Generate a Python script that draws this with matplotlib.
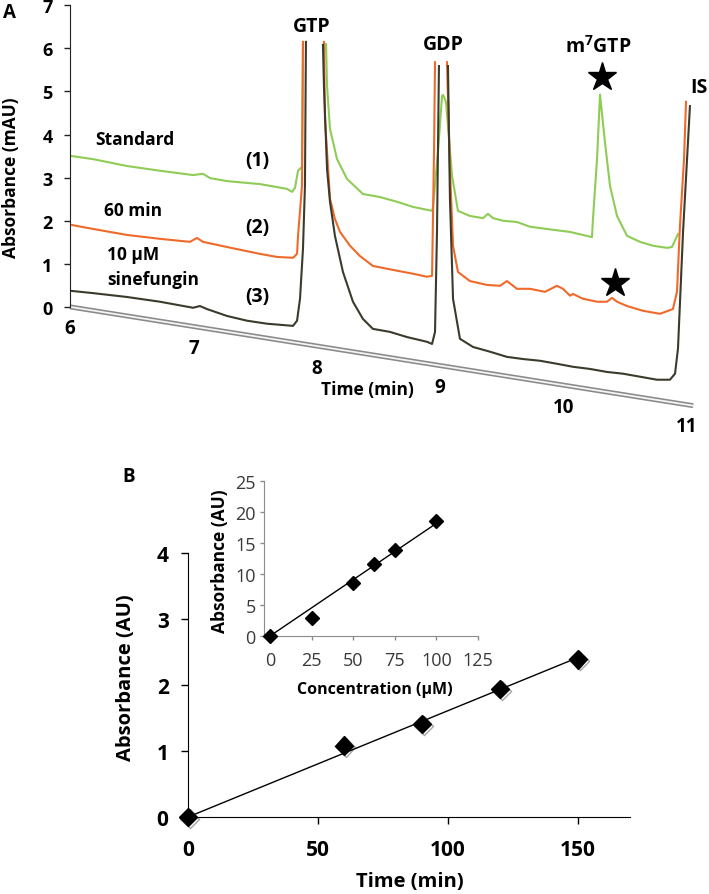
import numpy as np
import matplotlib
matplotlib.use("Agg")
import matplotlib.pyplot as plt
from matplotlib.transforms import Affine2D
import matplotlib.patheffects as pe

plt.rcParams['font.family'] = ['Open Sans', 'DejaVu Sans']
plt.rcParams['mathtext.fontset'] = 'custom'
plt.rcParams['mathtext.rm'] = 'Open Sans:bold'
plt.rcParams['mathtext.bf'] = 'Open Sans:bold'

# ---- panel A: chromatograms (time in min, absorbance in mAU)
nan = np.nan
std_t = [6.016, 6.186, 6.462, 6.729, 6.997, 7.078, 7.134, 7.272, 7.540, 7.758, 7.799, 7.823,
         7.848, 7.880, 7.888, nan, 8.075, 8.083, 8.107, 8.164, 8.245, 8.374, 8.512, 8.650,
         8.780, 8.934, 8.942, 8.982, 9.015, 9.023, 9.047, 9.096, 9.144, 9.241, 9.347, 9.387,
         9.428, 9.509, 9.622, 9.728, 9.914, 10.052, 10.230, 10.238, 10.271, 10.295, 10.335,
         10.376, 10.433, 10.514, 10.619, 10.724, 10.838, 10.878, 10.927]
std_a = [3.50, 3.43, 3.27, 3.16, 3.06, 3.09, 2.99, 2.92, 2.85, 2.74, 2.67, 2.76,
         3.16, 3.25, 6.10, nan, 6.10, 5.13, 4.13, 3.43, 2.97, 2.62, 2.55, 2.44,
         2.32, 2.23, 2.32, 3.60, 4.90, 4.92, 4.76, 3.04, 2.23, 2.11, 2.06, 2.16,
         2.06, 2.00, 1.97, 1.86, 1.79, 1.74, 1.62, 2.04, 3.43, 4.93, 3.83,
         2.81, 2.11, 1.65, 1.51, 1.42, 1.37, 1.39, 1.69]

min60_t = [6.016, 6.186, 6.462, 6.729, 6.972, 7.029, 7.078, 7.272, 7.540, 7.677, 7.807, 7.840,
           7.848, 7.880, 7.888, nan, 8.058, 8.066, 8.083, 8.107, 8.147, 8.188, 8.269, 8.350,
           8.455, 8.650, 8.780, 8.893, 8.934, 8.950, 8.958, nan, 9.055, 9.079, 9.104, 9.144,
           9.241, 9.379, 9.485, 9.541, 9.622, 9.728, 9.849, 9.946, 9.995, 10.052, 10.076,
           10.157, 10.271, 10.352, 10.392, 10.433, 10.514, 10.643, 10.781, 10.886, 10.919,
           10.943, 10.976, 10.992]
min60_a = [1.90, 1.81, 1.67, 1.58, 1.51, 1.60, 1.51, 1.39, 1.23, 1.16, 1.14, 1.23,
           1.65, 2.81, 6.15, nan, 6.15, 4.36, 3.60, 2.51, 2.04, 1.74, 1.42, 1.18,
           0.95, 0.84, 0.77, 0.70, 0.72, 3.60, 5.68, nan, 5.68, 3.20, 1.42, 0.81,
           0.60, 0.51, 0.49, 0.60, 0.42, 0.42, 0.35, 0.49, 0.42, 0.26, 0.30,
           0.19, 0.12, 0.12, 0.21, 0.12, 0.02, -0.09, -0.16, -0.05, 0.35,
           1.88, 3.43, 4.76]

sine_t = [6.016, 6.186, 6.462, 6.729, 6.997, 7.053, 7.110, 7.272, 7.434, 7.596, 7.807, 7.840,
          7.864, 7.888, 7.904, 7.912, nan, 8.050, 8.058, 8.083, 8.107, 8.147, 8.212, 8.293,
          8.374, 8.455, 8.593, 8.731, 8.893, 8.934, 8.958, 8.974, 8.990, nan, 9.063, 9.079,
          9.104, 9.160, 9.266, 9.404, 9.541, 9.671, 9.809, 9.946, 10.076, 10.214, 10.352,
          10.481, 10.619, 10.757, 10.862, 10.903, 10.927, 10.968, 11.024]
sine_a = [0.37, 0.32, 0.23, 0.12, -0.02, 0.02, -0.05, -0.21, -0.32, -0.39, -0.44, -0.32,
          0.19, 1.35, 2.81, 6.15, nan, 6.08, 5.13, 3.20, 2.44, 1.65, 0.81, 0.12,
          -0.28, -0.51, -0.58, -0.70, -0.81, -0.86, -0.58, 1.74, 5.59, nan, 5.59, 2.51,
          0.19, -0.74, -0.93, -1.04, -1.16, -1.21, -1.25, -1.32, -1.39, -1.44, -1.51,
          -1.55, -1.62, -1.69, -1.69, -1.55, -0.97, 1.74, 4.66]

star_t = [10.311, 10.417]
star_a = [5.34, 0.56]
time_ticks = [6, 7, 8, 9, 10, 11]
abs_ticks = [0, 1, 2, 3, 4, 5, 6, 7]

# ---- panel B
time_min = [0, 60, 90, 120, 150]
abs_au = [0.0, 1.08, 1.41, 1.94, 2.39]
conc_um = [0, 25, 50, 62.5, 75, 100]
conc_abs = [0.0, 2.86, 8.55, 11.6, 13.9, 18.5]

W, H = 709, 895
fig = plt.figure(figsize=(W / 100, H / 100), dpi=100)


def fx(px):
    return px / W


def fy(py):
    return 1 - py / H


green = '#8fcc55'
orange = '#ef6a2a'
dark = '#3b3a2b'

# ---------------- panel A
axA = fig.add_axes([fx(70), fy(407), fx(705.5) - fx(70), fy(6.3) - fy(407)])
axA.set_xlim(6, 11.15)
axA.set_ylim(-2.3, 7)
for s in ['top', 'right', 'bottom']:
    axA.spines[s].set_visible(False)
axA.spines['left'].set_bounds(0, 7)
axA.spines['left'].set_color('#222222')
axA.set_xticks([])
axA.set_yticks(abs_ticks)
axA.tick_params(axis='y', direction='out', length=4.5, width=1, color='#222222',
                labelsize=13, pad=8)
for lab in axA.get_yticklabels():
    lab.set_fontweight('bold')

k = 0.454  # floor drop per minute in the oblique view
skew = Affine2D.from_values(1, -k, 0, 1, 0, 6 * k) + axA.transData
axA.plot([6, 11.05], [0, 0], color='#8a8a8a', lw=3.6, transform=skew, clip_on=False,
         solid_capstyle='butt', zorder=1)
axA.plot([6, 11.05], [0, 0], color='#f4f4f4', lw=1.3, transform=skew, clip_on=False,
         solid_capstyle='butt', zorder=1)
for t in time_ticks:
    axA.text(t, -0.50, str(t), transform=skew, ha='center', va='center',
             fontsize=13.5, fontweight='bold', clip_on=False)

axA.plot(std_t, std_a, color=green, lw=1.5, zorder=2, clip_on=False)
axA.plot(min60_t, min60_a, color=orange, lw=1.5, zorder=3, clip_on=False)
axA.plot(sine_t, sine_a, color=dark, lw=1.5, zorder=4, clip_on=False)
axA.plot(star_t, star_a, ls='none', marker='*', ms=21, color='black', zorder=5)

peak = dict(fontweight='bold', fontsize=14, ha='center', va='center')
axA.text(7.961, 6.52, 'GTP', **peak)
axA.text(9.023, 6.10, 'GDP', **peak)
axA.text(10.279, 6.06, r'm$^{7}$GTP', **peak)
axA.text(11.03, 5.10, 'IS', fontweight='bold', fontsize=14, ha='left', va='center',
         clip_on=False)
lbl = dict(fontweight='bold', fontsize=12.5, ha='center', va='center')
num = dict(fontweight='bold', fontsize=14, ha='center', va='center')
axA.text(6.527, 3.90, 'Standard', **lbl)
axA.text(7.515, 3.41, '(1)', **num)
axA.text(6.51, 2.25, '60 min', **lbl)
axA.text(7.515, 1.86, '(2)', **num)
axA.text(6.30, 1.23, '10 µM', fontweight='bold', fontsize=12.5, ha='left', va='center')
axA.text(6.30, 0.65, 'sinefungin', fontweight='bold', fontsize=12.5, ha='left',
         va='center')
axA.text(7.515, 0.26, '(3)', **num)
axA.text(8.41, -1.90, 'Time (min)', fontweight='bold', fontsize=12.5, ha='center',
         va='center')

fig.text(fx(11), fy(178), 'Absorbance (mAU)', rotation=90, ha='center', va='center',
         fontsize=12.5, fontweight='bold')
fig.text(fx(9), fy(13), 'A', ha='center', va='center', fontsize=13.5, fontweight='bold')

# ---------------- panel B main
axB = fig.add_axes([fx(188), fy(818), fx(630) - fx(188), fy(554) - fy(818)])
axB.set_xlim(0, 170)
axB.set_ylim(0, 4)
axB.spines['top'].set_visible(False)
axB.spines['right'].set_visible(False)
axB.set_xticks([0, 50, 100, 150])
axB.set_yticks([0, 1, 2, 3, 4])
axB.tick_params(direction='out', length=5, width=1, labelsize=15)
axB.tick_params(axis='x', pad=11)
axB.tick_params(axis='y', pad=9)
for lab in axB.get_xticklabels() + axB.get_yticklabels():
    lab.set_fontweight('bold')

tb = np.array(time_min, dtype=float)
ab = np.array(abs_au)
slope_b = np.sum(tb * ab) / np.sum(tb * tb)
axB.plot([0, tb.max()], [0, slope_b * tb.max()], color='black', lw=1)
axB.plot(time_min, abs_au, ls='none', marker='D', ms=9.5, color='black', clip_on=False,
         zorder=5,
         path_effects=[pe.SimpleLineShadow(offset=(1.2, -1.2), alpha=0.35), pe.Normal()])
fig.text(fx(126), fy(678), 'Absorbance (AU)', rotation=90, ha='center', va='center',
         fontsize=14.5, fontweight='bold')
fig.text(fx(410), fy(882), 'Time (min)', ha='center', va='center', fontsize=14.5,
         fontweight='bold')
fig.text(fx(129), fy(477), 'B', ha='center', va='center', fontsize=13.5, fontweight='bold')

# ---------------- panel B inset
axI = fig.add_axes([fx(264), fy(637), fx(478) - fx(264), fy(482) - fy(637)])
axI.set_xlim(-3.6, 125)
axI.set_ylim(0, 25)
axI.spines['top'].set_visible(False)
axI.spines['right'].set_visible(False)
for s in ['left', 'bottom']:
    axI.spines[s].set_color('#8c8c8c')
axI.set_xticks([0, 25, 50, 75, 100, 125])
axI.set_yticks([0, 5, 10, 15, 20, 25])
axI.tick_params(direction='out', length=3, width=1, color='#8c8c8c', labelsize=13,
                labelcolor='#3a3a3a')
axI.tick_params(axis='x', pad=8)
axI.tick_params(axis='y', pad=3)
cx = np.array(conc_um)
cy = np.array(conc_abs)
slope_i = np.sum(cx * cy) / np.sum(cx * cx)
axI.plot([0, cx.max()], [0, slope_i * cx.max()], color='black', lw=1)
axI.plot(conc_um, conc_abs, ls='none', marker='D', ms=7, color='black', clip_on=False,
         zorder=5)
fig.text(fx(220), fy(561), 'Absorbance (AU)', rotation=90, ha='center', va='center',
         fontsize=12.5, fontweight='bold')
fig.text(fx(375), fy(690), 'Concentration (µM)', ha='center', va='center', fontsize=11.5,
         fontweight='bold')

fig.savefig('out.png', dpi=100)
